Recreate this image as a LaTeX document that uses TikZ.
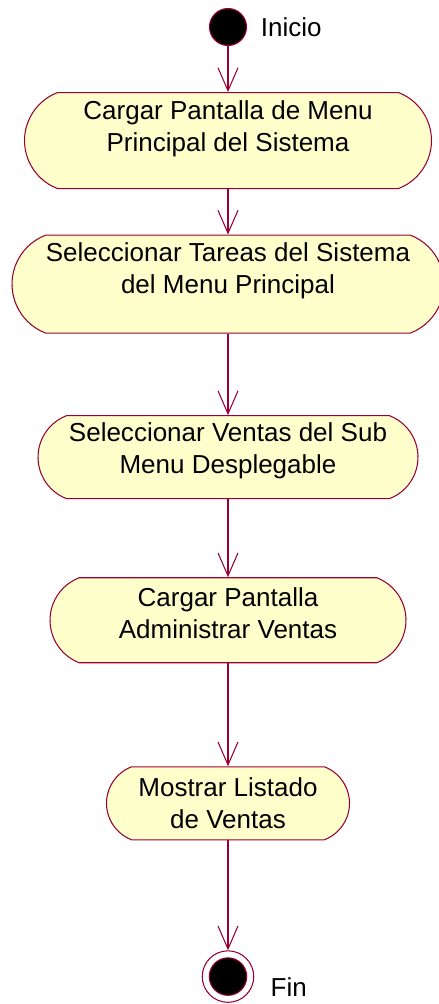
\documentclass[tikz,border=0pt]{standalone}
\usepackage{fontspec}
\setmainfont{Liberation Sans}
\usetikzlibrary{shapes.misc, arrows.meta, positioning}
\definecolor{cLine}{RGB}{153,0,51}
\definecolor{cFill}{RGB}{255,255,204}
\tikzset{
	act/.style      ={rounded rectangle, rounded rectangle arc length=138, draw=cLine, fill=cFill, line width=0.6pt, inner sep=0pt},
	actlbl/.style   ={align=center, inner sep=0pt},
	startnode/.style={circle, draw=cLine, fill=black, line width=0.6pt, minimum size=0.74cm, inner sep=0pt},
	endnode/.style  ={circle, draw=cLine, fill=white, line width=0.6pt, minimum size=1.03cm, inner sep=0pt},
	flowarrow/.style={-{Straight Barb[length=0.46cm, width=0.4cm]}, cLine, line width=0.6pt},
}
\begin{document}
\begin{tikzpicture}[every node/.style={font=\fontsize{14.8}{18.2}\selectfont}]
	\useasboundingbox (0,0) rectangle (8.78,-20.08);
	\node[startnode] (ini) at (4.56,-0.54) {};
	\node[right=0.27cm of ini, inner sep=0pt] (iniT) {Inicio};
	\node[act, below=0.92cm of ini, minimum width=8.14cm, minimum height=1.92cm] (a1) {};
	\node[act, below=0.91cm of a1, minimum width=8.64cm, minimum height=1.96cm] (a2) {};
	\node[act, below=1.63cm of a2, minimum width=7.6cm, minimum height=1.66cm] (a3) {};
	\node[act, below=1.56cm of a3, minimum width=7.12cm, minimum height=1.7cm] (a4) {};
	\node[act, below=2.06cm of a4, minimum width=4.86cm, minimum height=1.46cm] (a5) {};
	\node[endnode, below=2.2cm of a5] (fin) {};
	\node[startnode, minimum size=0.75cm] (finI) at (fin) {};
	\node[right=0.32cm of fin, yshift=-0.2cm, inner sep=0pt] (finT) {Fin};
	% texts of the activities
	\node[actlbl] (t1) at ([yshift=0.23cm]a1.center) {Cargar Pantalla de Menu\\Principal del Sistema};
	\node[actlbl] (t2) at ([yshift=0.26cm]a2.center) {Seleccionar Tareas del Sistema\\del Menu Principal};
	\node[actlbl] (t3) at ([yshift=0.13cm]a3.center) {Seleccionar Ventas del Sub\\Menu Desplegable};
	\node[actlbl] (t4) at ([yshift=0.15cm]a4.center) {Cargar Pantalla\\Administrar Ventas};
	\node[actlbl] (t5) at (a5.center) {Mostrar Listado\\de Ventas};
	\draw[flowarrow] (ini) -- (a1); \draw[flowarrow] (a1) -- (a2); \draw[flowarrow] (a2) -- (a3);
	\draw[flowarrow] (a3) -- (a4); \draw[flowarrow] (a4) -- (a5); \draw[flowarrow] (a5) -- (fin);
\end{tikzpicture}
\end{document}
